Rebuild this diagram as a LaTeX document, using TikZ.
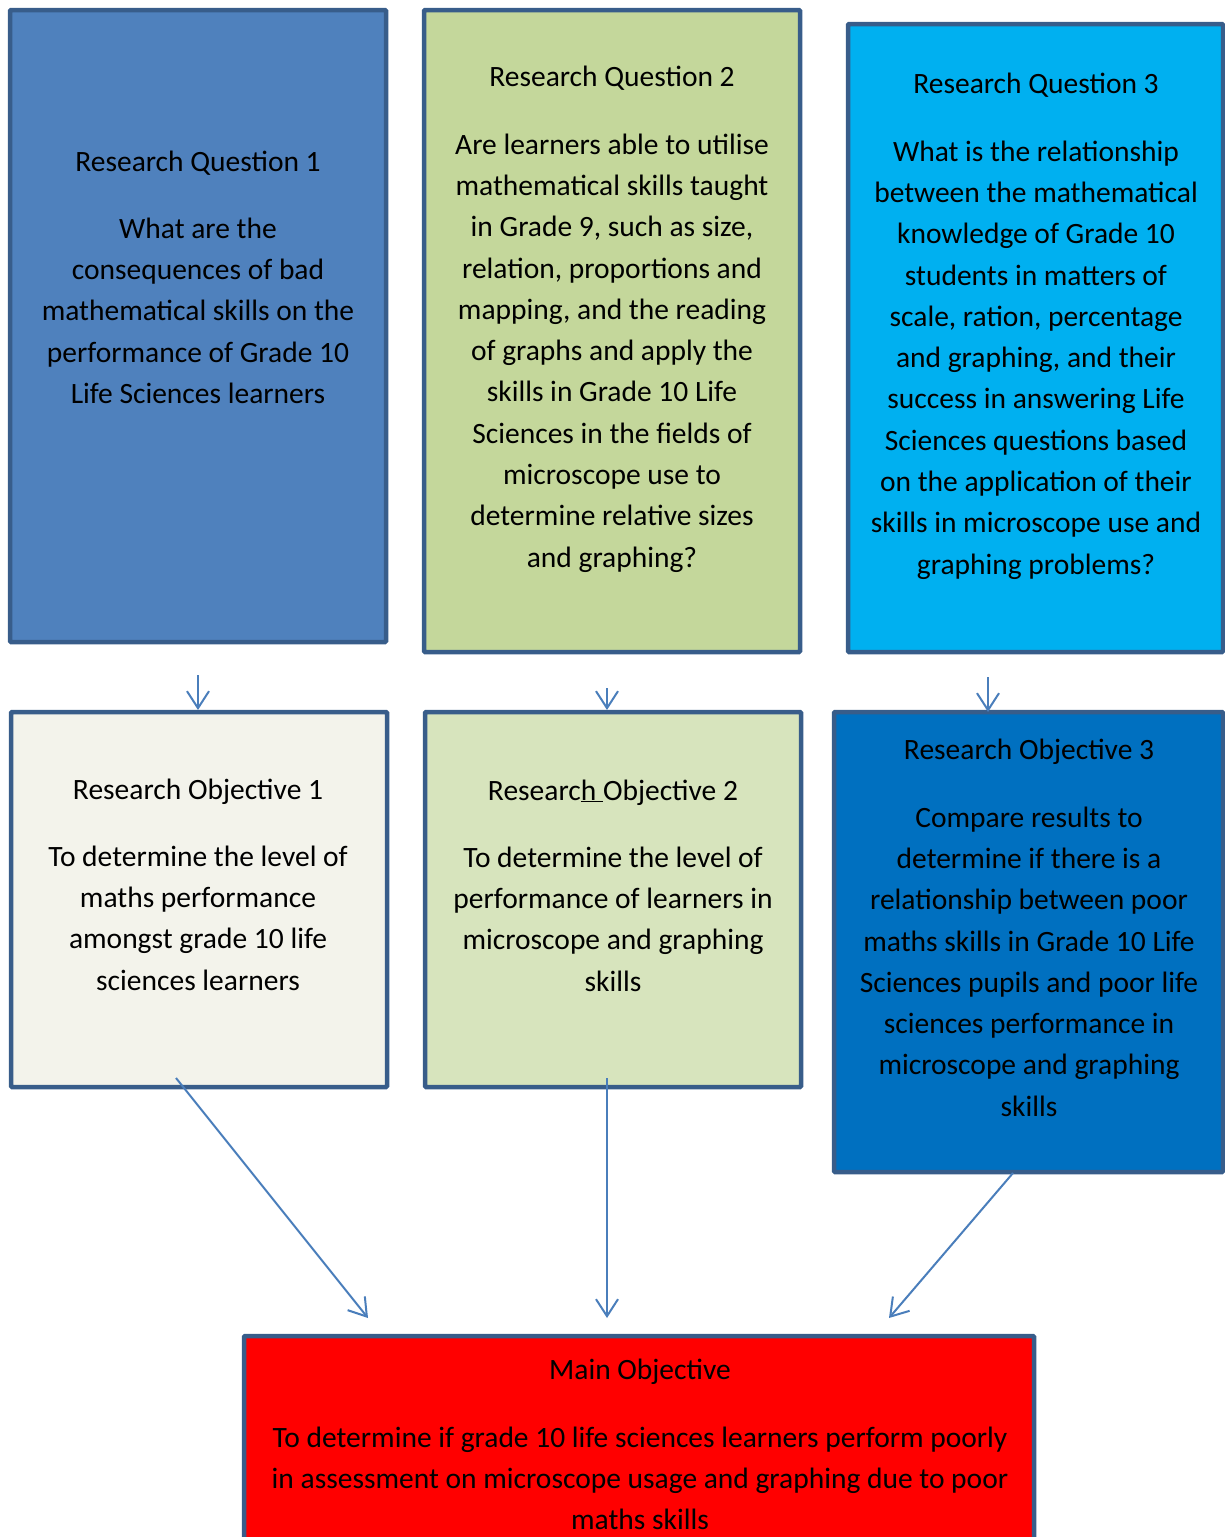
\documentclass[tikz,border=0pt]{standalone}
\usepackage{fontspec}
\setmainfont{Carlito}
\usetikzlibrary{arrows.meta}
\definecolor{edgeblue}{RGB}{56,93,138}
\definecolor{arrowblue}{RGB}{74,126,187}
\definecolor{rqone}{RGB}{79,129,189}
\definecolor{rqtwo}{RGB}{196,215,155}
\definecolor{rqthree}{RGB}{0,176,240}
\definecolor{roone}{RGB}{243,243,235}
\definecolor{rotwo}{RGB}{215,228,189}
\definecolor{rothree}{RGB}{0,112,192}
\definecolor{mainred}{RGB}{255,0,0}
\tikzset{
  panel/.style={draw=edgeblue, line width=4.5pt, rounded corners=1pt, inner sep=0pt},
  txt/.style={font=\fontsize{29.5}{41.3}\selectfont, align=center, inner sep=0pt, anchor=north, text=black, yshift=-2pt},
  flow/.style={draw=arrowblue, line width=2pt, -{Straight Barb[length=17pt,width=22pt]}},
}
\begin{document}
\begin{tikzpicture}[x=1pt,y=-1pt]
\useasboundingbox (0,0) rectangle (1225,1537);
\begin{scope}
\clip (0,0) rectangle (1225,1537);
% boxes
\draw[panel, fill=rqone] (10,10) rectangle (386,642);
\draw[panel, fill=rqtwo] (424,10) rectangle (800,652);
\draw[panel, fill=rqthree] (848,24) rectangle (1223,652);
\draw[panel, fill=roone] (11,712) rectangle (387,1087);
\draw[panel, fill=rotwo] (425,712) rectangle (801,1087);
\draw[panel, fill=rothree] (834,712) rectangle (1223,1172);
\draw[panel, fill=mainred] (244,1336) rectangle (1034,1560);
\end{scope}

% RQ1
\node[txt] (rq1t) at (198,140) {\strut Research Question 1};
\node[txt] (rq1b) at (198,207) {\strut What are the\\consequences of bad\\mathematical skills on the\\performance of Grade 10\\Life Sciences learners};
% RQ2
\node[txt] (rq2t) at (612,55) {\strut Research Question 2};
\node[txt] (rq2b) at (612,123) {\strut Are learners able to utilise\\mathematical skills taught\\in Grade 9, such as size,\\relation, proportions and\\mapping, and the reading\\of graphs and apply the\\skills in Grade 10 Life\\Sciences in the fields of\\microscope use to\\determine relative sizes\\and graphing?};
% RQ3
\node[txt] (rq3t) at (1036,62) {\strut Research Question 3};
\node[txt] (rq3b) at (1036,130) {\strut What is the relationship\\between the mathematical\\knowledge of Grade 10\\students in matters of\\scale, ration, percentage\\and graphing, and their\\success in answering Life\\Sciences questions based\\on the application of their\\skills in microscope use and\\graphing problems?};
% RO1
\node[txt] (ro1t) at (198,768) {\strut Research Objective 1};
\node[txt] (ro1b) at (198,835) {\strut To determine the level of\\maths performance\\amongst grade 10 life\\sciences learners};
% RO2
\node[txt] (ro2t) at (613,769) {\strut Researc\underline{h\ }Objective 2};
\node[txt] (ro2b) at (613,836) {\strut To determine the level of\\performance of learners in\\microscope and graphing\\skills};
% RO3
\node[txt] (ro3t) at (1029,728) {\strut Research Objective 3};
\node[txt] (ro3b) at (1029,796) {\strut Compare results to\\determine if there is a\\relationship between poor\\maths skills in Grade 10 Life\\Sciences pupils and poor life\\sciences performance in\\microscope and graphing\\skills};
% Main
\node[txt] (mt) at (640,1348) {\strut Main Objective};
\node[txt] (mb) at (640,1416) {\strut To determine if grade 10 life sciences learners perform poorly\\in assessment on microscope usage and graphing due to poor\\maths skills};

% connectors
\coordinate (a1s) at (198,675); \coordinate (a1e) at (198,710);
\coordinate (a2s) at (607,688); \coordinate (a2e) at (607,710);
\coordinate (a3s) at (988,677); \coordinate (a3e) at (988,712);
\coordinate (d1s) at (176,1078); \coordinate (d1e) at (368,1318);
\coordinate (d2s) at (607,1078); \coordinate (d2e) at (607,1318);
\coordinate (d3s) at (1013,1173); \coordinate (d3e) at (889,1318);
\draw[flow] (a1s) -- (a1e);
\draw[flow] (a2s) -- (a2e);
\draw[flow] (a3s) -- (a3e);
\draw[flow] (d1s) -- (d1e);
\draw[flow] (d2s) -- (d2e);
\draw[flow] (d3s) -- (d3e);
\end{tikzpicture}
\end{document}
